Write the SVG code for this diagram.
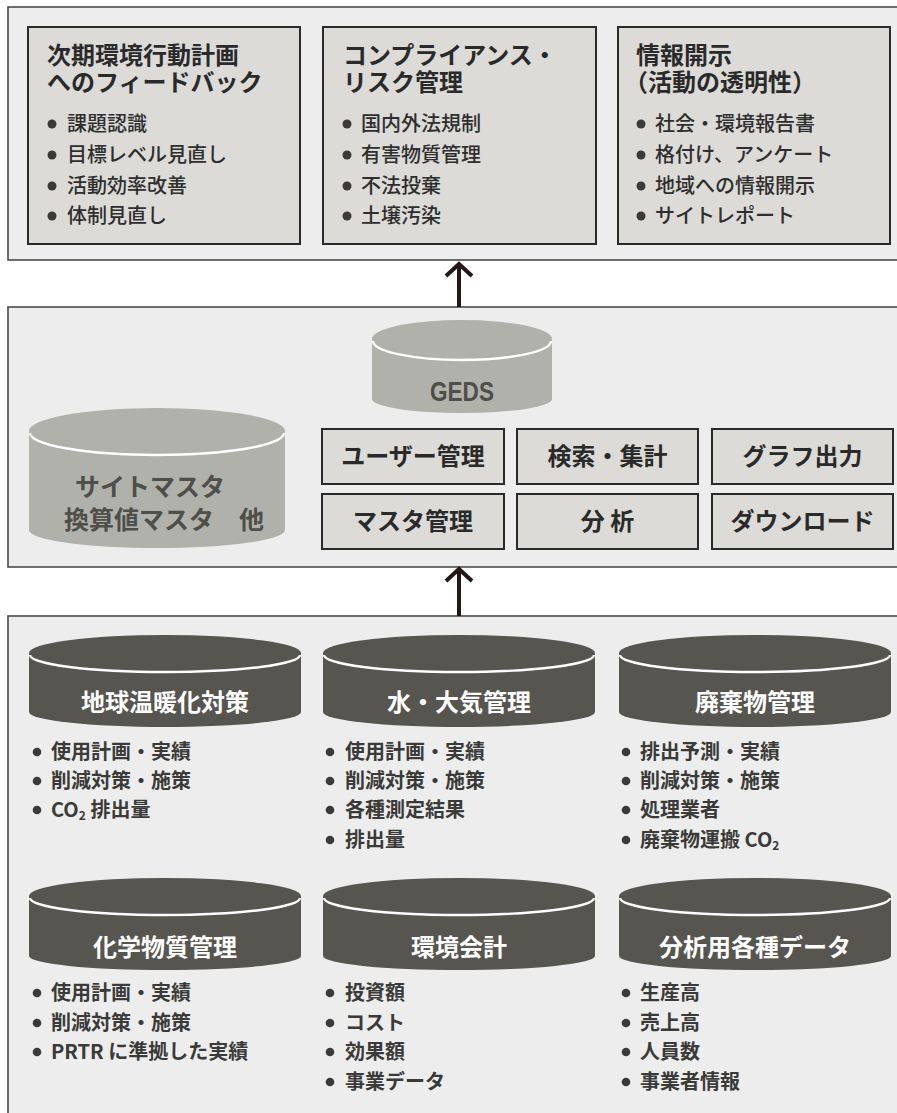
<svg xmlns="http://www.w3.org/2000/svg" width="897" height="1113" viewBox="0 0 897 1113">
<style>
.panel{fill:#ededed;stroke:#4a4a4a;stroke-width:1.6}
.box{fill:#dcdbd8;stroke:#2a2a2a;stroke-width:2}
.t{font-family:"Noto Sans CJK JP","Noto Sans",sans-serif;}
.title{font-size:24px;font-weight:700;fill:#2a2a2a}
.item{font-size:20px;font-weight:500;fill:#2e2e2e}
.item2{font-size:20px;font-weight:700;fill:#3a3a38}
.fn{font-size:24px;font-weight:700;fill:#2a2a2a;text-anchor:middle}
.clab{font-size:24px;font-weight:700;fill:#ffffff;text-anchor:middle}
.glab{font-size:25px;font-weight:700;fill:#4e4e4a;text-anchor:middle}
.dot{fill:#3a3a38}
.dark{fill:#57554f}
.light{fill:#b1b1ab}
.rim{fill:none;stroke:#ffffff;stroke-width:2.4}
.arr{fill:none;stroke:#231815;stroke-width:4}
</style>
<rect width="897" height="1113" fill="#ffffff"/>

<!-- panels -->
<g id="panel-top"><rect class="panel" x="8" y="7" width="900" height="253"/></g>
<g id="panel-mid"><rect class="panel" x="8" y="307" width="900" height="260"/></g>
<g id="panel-bottom"><rect class="panel" x="8" y="616" width="900" height="510"/></g>

<!-- top boxes -->
<g id="box-feedback">
<rect class="box" x="28" y="27" width="272" height="217"/>
<text class="t title"><tspan x="47" y="64">次期環境行動計画</tspan><tspan x="47" y="91">へのフィードバック</tspan></text>
<circle class="dot" cx="52" cy="124" r="4.5"/><text class="t item" x="67" y="131">課題認識</text>
<circle class="dot" cx="52" cy="155" r="4.5"/><text class="t item" x="67" y="162">目標レベル見直し</text>
<circle class="dot" cx="52" cy="186" r="4.5"/><text class="t item" x="67" y="193">活動効率改善</text>
<circle class="dot" cx="52" cy="216" r="4.5"/><text class="t item" x="67" y="223">体制見直し</text>
</g>
<g id="box-compliance">
<rect class="box" x="323" y="27" width="273" height="217"/>
<text class="t title"><tspan x="343" y="64">コンプライアンス・</tspan><tspan x="343" y="91">リスク管理</tspan></text>
<circle class="dot" cx="347" cy="124" r="4.5"/><text class="t item" x="361" y="131">国内外法規制</text>
<circle class="dot" cx="347" cy="155" r="4.5"/><text class="t item" x="361" y="162">有害物質管理</text>
<circle class="dot" cx="347" cy="186" r="4.5"/><text class="t item" x="361" y="193">不法投棄</text>
<circle class="dot" cx="347" cy="216" r="4.5"/><text class="t item" x="361" y="223">土壌汚染</text>
</g>
<g id="box-disclosure">
<rect class="box" x="618" y="27" width="272" height="217"/>
<text class="t title"><tspan x="636" y="64">情報開示</tspan><tspan x="624" y="91">（活動の透明性）</tspan></text>
<circle class="dot" cx="641" cy="124" r="4.5"/><text class="t item" x="655" y="131">社会・環境報告書</text>
<circle class="dot" cx="641" cy="155" r="4.5"/><text class="t item" x="655" y="162">格付け、アンケート</text>
<circle class="dot" cx="641" cy="186" r="4.5"/><text class="t item" x="655" y="193">地域への情報開示</text>
<circle class="dot" cx="641" cy="216" r="4.5"/><text class="t item" x="655" y="223">サイトレポート</text>
</g>

<!-- middle -->
<g id="db-geds">
<path class="light" d="M372,339 V399 A90,14 0 0 0 552,399 V339 Z"/>
<ellipse class="light" cx="462" cy="339" rx="90" ry="19"/>
<path class="rim" d="M373,341 A89,19 0 0 0 551,341"/>
<text x="462" y="401" font-family="Liberation Sans,Arial,sans-serif" font-size="27" font-weight="700" fill="#4e4e4a" text-anchor="middle" textLength="64" lengthAdjust="spacingAndGlyphs">GEDS</text>
</g>
<g id="db-master">
<path class="light" d="M29,431 V530 A128,18 0 0 0 285,530 V431 Z"/>
<ellipse class="light" cx="157" cy="431" rx="128" ry="23"/>
<path class="rim" d="M30,433 A127,22 0 0 0 284,433"/>
<text class="t glab" x="150" y="496">サイトマスタ</text>
<text class="t glab" x="164" y="529">換算値マスタ　他</text>
</g>
<g id="fn-user"><rect class="box" x="322" y="429" width="182" height="55"/><text class="t fn" x="413" y="465">ユーザー管理</text></g>
<g id="fn-search"><rect class="box" x="517" y="429" width="181" height="55"/><text class="t fn" x="607.5" y="465">検索・集計</text></g>
<g id="fn-graph"><rect class="box" x="712" y="429" width="181" height="55"/><text class="t fn" x="802.5" y="465">グラフ出力</text></g>
<g id="fn-master"><rect class="box" x="322" y="494" width="182" height="55"/><text class="t fn" x="413" y="530">マスタ管理</text></g>
<g id="fn-analysis"><rect class="box" x="517" y="494" width="181" height="55"/><text class="t fn" x="607.5" y="530">分 析</text></g>
<g id="fn-download"><rect class="box" x="712" y="494" width="181" height="55"/><text class="t fn" x="802.5" y="530">ダウンロード</text></g>

<!-- bottom row 1 -->
<g id="db-warming">
<path class="dark" d="M29,653 V712 A136,15 0 0 0 301,712 V653 Z"/>
<ellipse class="dark" cx="165" cy="653" rx="136" ry="18"/>
<path class="rim" d="M30,655 A135,17 0 0 0 300,655"/>
<text class="t clab" x="165" y="711">地球温暖化対策</text>
<circle class="dot" cx="37" cy="752" r="4.3"/><text class="t item2" x="51" y="759">使用計画・実績</text>
<circle class="dot" cx="37" cy="781" r="4.3"/><text class="t item2" x="51" y="788">削減対策・施策</text>
<circle class="dot" cx="37" cy="810" r="4.3"/><text class="t item2" x="51" y="817">CO<tspan font-size="12" dy="3">2</tspan><tspan dy="-3"> 排出量</tspan></text>
</g>
<g id="db-water">
<path class="dark" d="M323,653 V712 A136,15 0 0 0 595,712 V653 Z"/>
<ellipse class="dark" cx="459" cy="653" rx="136" ry="18"/>
<path class="rim" d="M324,655 A135,17 0 0 0 594,655"/>
<text class="t clab" x="459" y="711">水・大気管理</text>
<circle class="dot" cx="330" cy="752" r="4.3"/><text class="t item2" x="345" y="759">使用計画・実績</text>
<circle class="dot" cx="330" cy="781" r="4.3"/><text class="t item2" x="345" y="788">削減対策・施策</text>
<circle class="dot" cx="330" cy="810" r="4.3"/><text class="t item2" x="345" y="817">各種測定結果</text>
<circle class="dot" cx="330" cy="840" r="4.3"/><text class="t item2" x="345" y="847">排出量</text>
</g>
<g id="db-waste">
<path class="dark" d="M619,653 V712 A136,15 0 0 0 891,712 V653 Z"/>
<ellipse class="dark" cx="755" cy="653" rx="136" ry="18"/>
<path class="rim" d="M620,655 A135,17 0 0 0 890,655"/>
<text class="t clab" x="755" y="711">廃棄物管理</text>
<circle class="dot" cx="626" cy="752" r="4.3"/><text class="t item2" x="640" y="759">排出予測・実績</text>
<circle class="dot" cx="626" cy="781" r="4.3"/><text class="t item2" x="640" y="788">削減対策・施策</text>
<circle class="dot" cx="626" cy="810" r="4.3"/><text class="t item2" x="640" y="817">処理業者</text>
<circle class="dot" cx="626" cy="840" r="4.3"/><text class="t item2" x="640" y="847">廃棄物運搬 CO<tspan font-size="12" dy="3">2</tspan></text>
</g>

<!-- bottom row 2 -->
<g id="db-chemical">
<path class="dark" d="M29,896 V956 A136,14 0 0 0 301,956 V896 Z"/>
<ellipse class="dark" cx="165" cy="896" rx="136" ry="18"/>
<path class="rim" d="M30,898 A135,17 0 0 0 300,898"/>
<text class="t clab" x="165" y="956">化学物質管理</text>
<circle class="dot" cx="37" cy="993" r="4.3"/><text class="t item2" x="51" y="1000">使用計画・実績</text>
<circle class="dot" cx="37" cy="1023" r="4.3"/><text class="t item2" x="51" y="1030">削減対策・施策</text>
<circle class="dot" cx="37" cy="1052" r="4.3"/><text class="t item2" x="51" y="1059">PRTR に準拠した実績</text>
</g>
<g id="db-accounting">
<path class="dark" d="M323,896 V956 A136,14 0 0 0 595,956 V896 Z"/>
<ellipse class="dark" cx="459" cy="896" rx="136" ry="18"/>
<path class="rim" d="M324,898 A135,17 0 0 0 594,898"/>
<text class="t clab" x="459" y="956">環境会計</text>
<circle class="dot" cx="330" cy="993" r="4.3"/><text class="t item2" x="345" y="1000">投資額</text>
<circle class="dot" cx="330" cy="1023" r="4.3"/><text class="t item2" x="345" y="1030">コスト</text>
<circle class="dot" cx="330" cy="1052" r="4.3"/><text class="t item2" x="345" y="1059">効果額</text>
<circle class="dot" cx="330" cy="1082" r="4.3"/><text class="t item2" x="345" y="1089">事業データ</text>
</g>
<g id="db-analysis-data">
<path class="dark" d="M619,896 V956 A136,14 0 0 0 891,956 V896 Z"/>
<ellipse class="dark" cx="755" cy="896" rx="136" ry="18"/>
<path class="rim" d="M620,898 A135,17 0 0 0 890,898"/>
<text class="t clab" x="755" y="956">分析用各種データ</text>
<circle class="dot" cx="626" cy="993" r="4.3"/><text class="t item2" x="640" y="1000">生産高</text>
<circle class="dot" cx="626" cy="1023" r="4.3"/><text class="t item2" x="640" y="1030">売上高</text>
<circle class="dot" cx="626" cy="1052" r="4.3"/><text class="t item2" x="640" y="1059">人員数</text>
<circle class="dot" cx="626" cy="1082" r="4.3"/><text class="t item2" x="640" y="1089">事業者情報</text>
</g>

<!-- connectors -->
<g id="connectors">
<line class="arr" x1="459" y1="307" x2="459" y2="266"/>
<polyline class="arr" points="446,276 459,264 472,276"/>
<line class="arr" x1="459" y1="616" x2="459" y2="571"/>
<polyline class="arr" points="446,581 459,569 472,581"/>
</g>
</svg>
